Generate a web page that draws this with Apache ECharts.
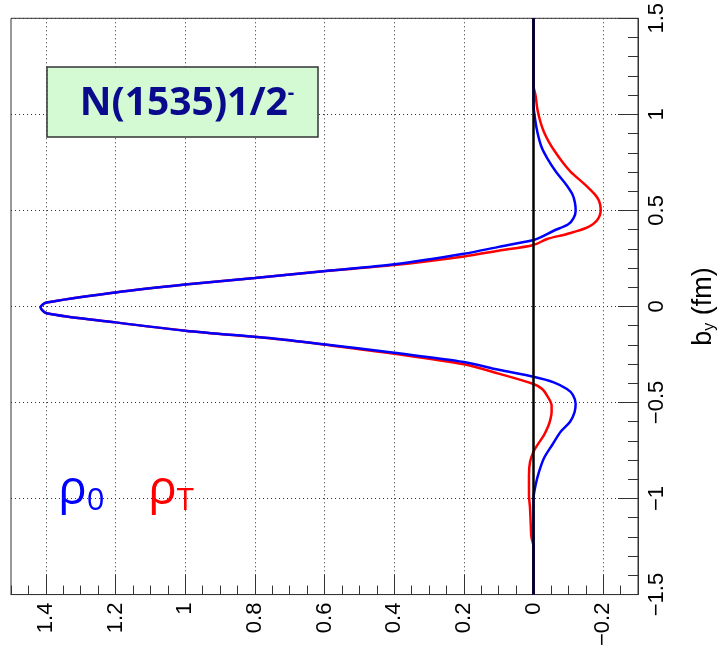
<!DOCTYPE html>
<html>
<head>
<meta charset="utf-8">
<script src="https://cdn.jsdelivr.net/npm/echarts@6/dist/echarts.min.js"></script>
<style>
  html, body { margin: 0; padding: 0; background: #fff; }
  #main { width: 726px; height: 649px; }
</style>
</head>
<body>
<div id="main"></div>
<script>
// b_y (fm) positions and densities
var bBlue = [-1.5, -1.2, -1.0, -0.93, -0.86, -0.79, -0.72, -0.65, -0.6, -0.55, -0.507, -0.46, -0.43, -0.395,
    -0.366, -0.33, -0.289, -0.241, -0.198, -0.169, -0.126, -0.083, -0.035, -0.004, 0.02, 0.073, 0.114, 0.148,
    0.184, 0.219, 0.274, 0.31, 0.346, 0.36, 0.394, 0.428, 0.46, 0.497, 0.54, 0.583, 0.634, 0.7, 0.77, 0.83,
    0.9, 0.97, 1.05, 1.5];
var rhoBlue = [0, 0, 0, -0.006, -0.016, -0.03, -0.054, -0.079, -0.105, -0.118, -0.121, -0.113, -0.096, -0.058,
    0, 0.1, 0.2, 0.4, 0.597, 0.736, 1.0, 1.2, 1.398, 1.415, 1.398, 1.2, 1.0, 0.8,
    0.597, 0.4, 0.2, 0.1, 0, -0.02, -0.058, -0.1, -0.115, -0.121, -0.119, -0.112, -0.094, -0.065, -0.04, -0.023,
    -0.012, -0.005, 0, 0];

var bRed = [-1.5, -1.25, -1.2, -1.13, -1.05, -0.98, -0.88, -0.81, -0.756, -0.722, -0.67, -0.62, -0.584, -0.55,
    -0.516, -0.464, -0.43, -0.404, -0.35, -0.301, -0.246, -0.2, -0.17, -0.126, -0.083, -0.035, -0.004, 0.02,
    0.073, 0.114, 0.148, 0.184, 0.215, 0.26, 0.29, 0.32, 0.351, 0.377, 0.41, 0.45, 0.505, 0.55, 0.583, 0.634,
    0.702, 0.754, 0.805, 0.857, 0.908, 0.96, 1.028, 1.097, 1.15, 1.5];
var rhoRed = [0, 0, 0.006, 0.008, 0.01, 0.013, 0.013, 0.01, 0, -0.011, -0.03, -0.043, -0.049, -0.052,
    -0.052, -0.039, -0.025, 0, 0.1, 0.2, 0.4, 0.597, 0.736, 1.0, 1.2, 1.398, 1.415, 1.398,
    1.2, 1.0, 0.8, 0.597, 0.4, 0.2, 0.1, 0, -0.039, -0.096, -0.153, -0.183, -0.193, -0.188, -0.176, -0.148,
    -0.106, -0.082, -0.062, -0.044, -0.03, -0.02, -0.011, -0.006, 0, 0];

var valueTicks = [-0.2, 0, 0.2, 0.4, 0.6, 0.8, 1, 1.2, 1.4];

function toPairs(bs, vs) {
    return bs.map(function (b, i) { return [vs[i], b]; });
}
function fmt(v) {
    return String(Math.round(v * 10) / 10).replace('-', '\u2212');
}

var gridDot = { type: [1, 3], color: '#333', width: 1 };

var option = {
    backgroundColor: '#fff',
    animation: false,
    grid: {
        left: 11, right: 81, top: 15, bottom: 51,
        show: true, borderColor: '#333', borderWidth: 1
    },
    xAxis: [
        {
            type: 'value',
            min: -0.3,
            max: 1.5,
            inverse: true,
            position: 'bottom',
            axisLine: { show: true, onZero: false, lineStyle: { color: '#333', width: 1 } },
            axisTick: { inside: true, length: 20, customValues: valueTicks, lineStyle: { color: '#333' } },
            axisLabel: {
                customValues: valueTicks,
                rotate: 90,
                margin: 8,
                fontSize: 22,
                color: '#000',
                fontFamily: 'Liberation Sans',
                formatter: fmt
            },
            splitLine: { show: true, lineStyle: gridDot }
        },
        {
            // minor ticks
            type: 'value',
            min: -0.3,
            max: 1.5,
            interval: 0.05,
            inverse: true,
            position: 'bottom',
            axisLine: { show: false, onZero: false },
            axisTick: { inside: true, length: 9, lineStyle: { color: '#333' } },
            axisLabel: { show: false },
            splitLine: { show: false }
        }
    ],
    yAxis: {
        type: 'value',
        min: -1.5,
        max: 1.5,
        interval: 0.5,
        position: 'right',
        axisLine: { show: true, onZero: false, lineStyle: { color: '#333', width: 1 } },
        axisTick: { inside: true, length: 20, lineStyle: { color: '#333' } },
        minorTick: { show: true, splitNumber: 5, length: 10, lineStyle: { color: '#333' } },
        axisLabel: {
            rotate: 90,
            margin: 8,
            fontSize: 22,
            color: '#000',
            fontFamily: 'Liberation Sans',
            formatter: fmt
        },
        splitLine: { show: true, lineStyle: gridDot },
        name: '{b|b}{s|y}{b| (fm)}',
        nameLocation: 'middle',
        nameRotate: 90,
        nameGap: 52,
        nameTextStyle: {
            rich: {
                b: { fontSize: 27, color: '#000', fontFamily: 'Liberation Sans' },
                s: { fontSize: 16, color: '#000', fontFamily: 'Liberation Sans', verticalAlign: 'bottom', padding: [12, 0, 0, 0] }
            }
        }
    },
    graphic: [
        {
            type: 'rect',
            shape: { x: 47, y: 67, width: 271, height: 70 },
            style: { fill: '#d4fad4', stroke: '#333', lineWidth: 1.5 },
            z: 100
        },
        {
            type: 'text',
            x: 187, y: 104,
            style: {
                text: '{m|N(1535)1/2}{s|-}',
                align: 'center',
                verticalAlign: 'middle',
                rich: {
                    m: { fontSize: 39, fontWeight: 'bold', fill: '#0a0a8c', fontFamily: 'Open Sans' },
                    s: { fontSize: 20, fontWeight: 'bold', fill: '#0a0a8c', fontFamily: 'Open Sans', verticalAlign: 'top', padding: [0, 0, 22, 0] }
                }
            },
            z: 101
        },
        {
            type: 'text',
            x: 58, y: 490,
            style: {
                text: '{r|ρ}{s|0}',
                verticalAlign: 'middle',
                rich: {
                    r: { fontSize: 48, fill: '#0000ff', fontFamily: 'Open Sans' },
                    s: { fontSize: 31, fill: '#0000ff', fontFamily: 'Open Sans', verticalAlign: 'bottom', padding: [22, 0, 0, 0] }
                }
            },
            z: 101
        },
        {
            type: 'text',
            x: 148, y: 490,
            style: {
                text: '{r|ρ}{s|T}',
                verticalAlign: 'middle',
                rich: {
                    r: { fontSize: 48, fill: '#ff0000', fontFamily: 'Open Sans' },
                    s: { fontSize: 31, fill: '#ff0000', fontFamily: 'Open Sans', verticalAlign: 'bottom', padding: [22, 0, 0, 0] }
                }
            },
            z: 101
        }
    ],
    series: [
        {
            name: 'zero',
            type: 'line',
            data: [],
            z: 1,
            markLine: {
                silent: true,
                symbol: 'none',
                label: { show: false },
                lineStyle: { color: '#000', width: 2.5, type: 'solid' },
                data: [{ xAxis: 0 }]
            }
        },
        {
            name: 'rhoT',
            type: 'line',
            data: toPairs(bRed, rhoRed),
            showSymbol: false,
            smooth: 0.3,
            lineStyle: { color: '#ff0000', width: 2.5 },
            z: 2
        },
        {
            name: 'rho0',
            type: 'line',
            data: toPairs(bBlue, rhoBlue),
            showSymbol: false,
            smooth: 0.3,
            lineStyle: { color: '#0000ff', width: 2.5 },
            z: 3
        }
    ]
};

var chart = echarts.init(document.getElementById('main'));
chart.setOption(option);
</script>
</body>
</html>
